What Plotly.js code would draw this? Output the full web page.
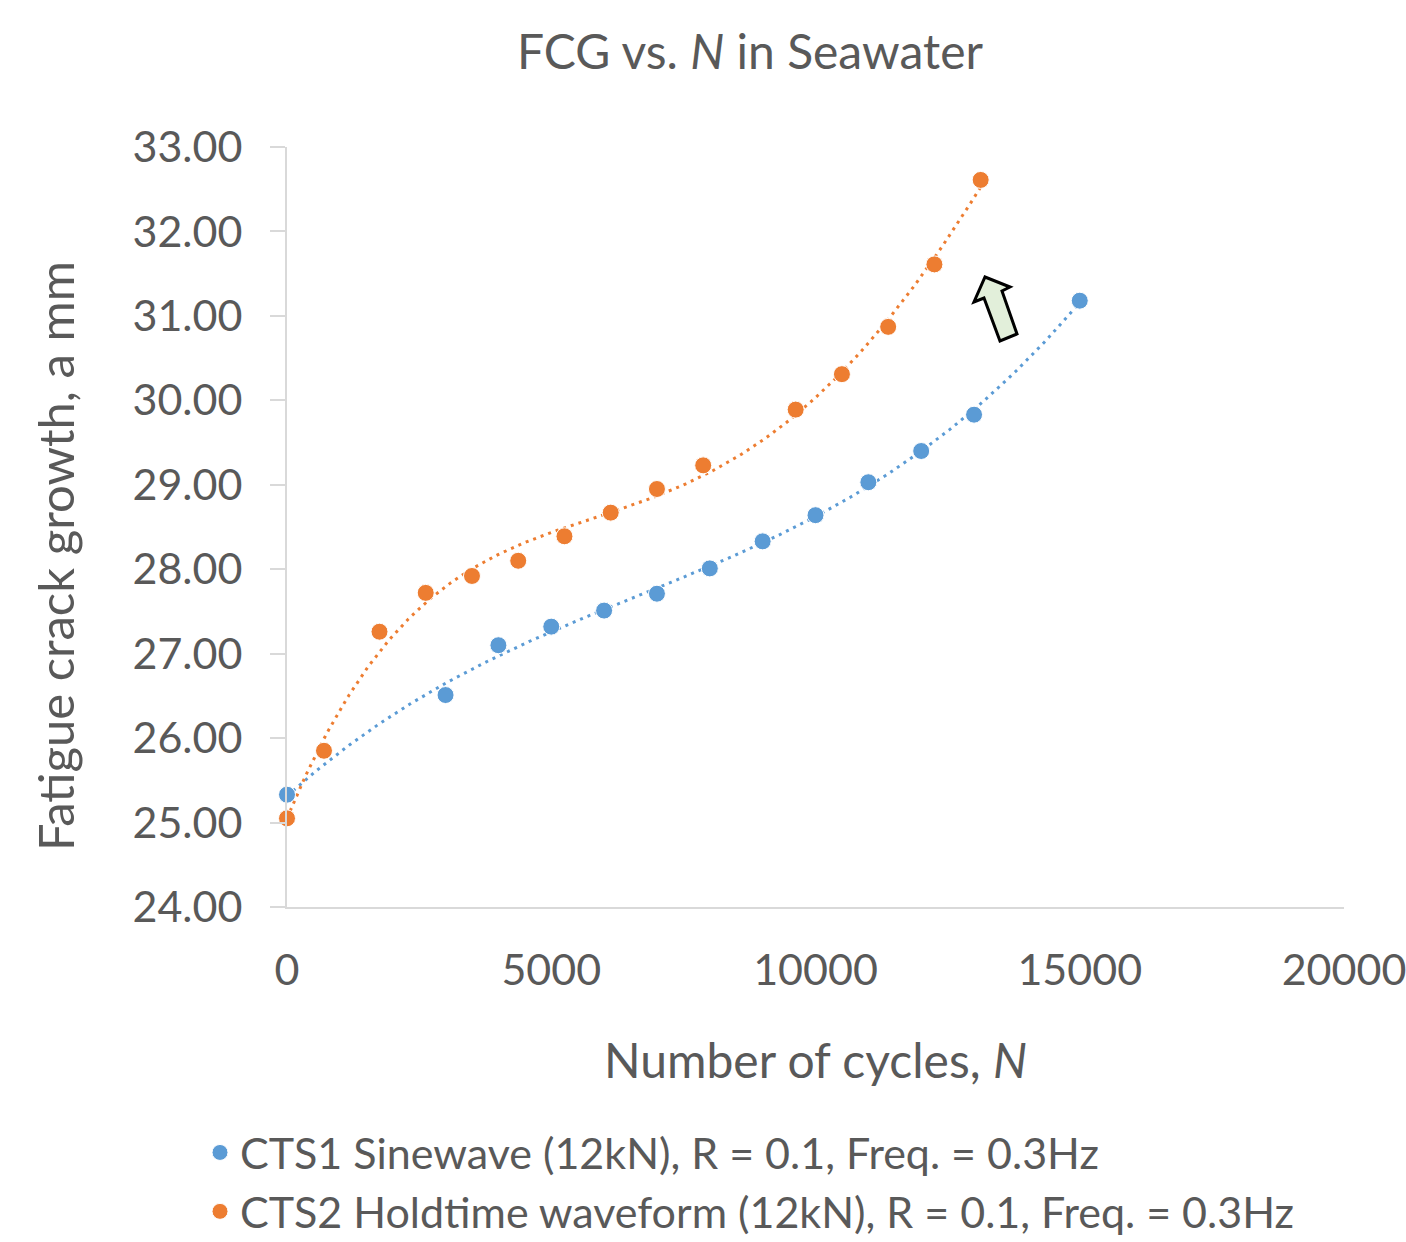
<!DOCTYPE html>
<html>
<head>
<meta charset="utf-8">
<script src="https://cdn.plot.ly/plotly-3.0.1.min.js"></script>
<style>html,body{margin:0;padding:0;background:#fff;}#chart{width:1406px;height:1242px;}</style>
</head>
<body>
<div id="chart"></div>
<script>
// ---- Data ----
const cts1Cycles = [0, 3000, 4000, 5000, 6000, 7000, 8000, 9000, 10000, 11000, 12000, 13000, 15000];
const cts1Crack  = [25.33, 26.51, 27.10, 27.32, 27.51, 27.71, 28.01, 28.33, 28.64, 29.03, 29.40, 29.83, 31.18];
const cts2Cycles = [0, 700, 1750, 2625, 3500, 4375, 5250, 6125, 7000, 7875, 9625, 10500, 11375, 12250, 13125];
const cts2Crack  = [25.05, 25.85, 27.26, 27.72, 27.92, 28.10, 28.39, 28.67, 28.95, 29.23, 29.89, 30.31, 30.87, 31.61, 32.61];
const seriesNames = [
  "CTS1 Sinewave (12kN), R = 0.1, Freq. = 0.3Hz",
  "CTS2 Holdtime waveform (12kN), R = 0.1, Freq. = 0.3Hz"
];
const yTicks = [24, 25, 26, 27, 28, 29, 30, 31, 32, 33];
const xTicks = [0, 5000, 10000, 15000, 20000];

// ---- polynomial least-squares trendline (like Excel) ----
function polyFit(xs, ys, order) {
  const s = 15000;
  const n = order + 1;
  const A = Array.from({length: n}, () => new Array(n + 1).fill(0));
  for (let k = 0; k < xs.length; k++) {
    const t = xs[k] / s;
    for (let i = 0; i < n; i++) {
      for (let j = 0; j < n; j++) A[i][j] += Math.pow(t, i + j);
      A[i][n] += ys[k] * Math.pow(t, i);
    }
  }
  for (let c = 0; c < n; c++) {
    let p = c;
    for (let r = c + 1; r < n; r++) if (Math.abs(A[r][c]) > Math.abs(A[p][c])) p = r;
    [A[c], A[p]] = [A[p], A[c]];
    for (let r = 0; r < n; r++) {
      if (r === c) continue;
      const f = A[r][c] / A[c][c];
      for (let j = c; j <= n; j++) A[r][j] -= f * A[c][j];
    }
  }
  const coef = A.map((row, i) => row[n] / row[i]);
  return x => coef.reduce((acc, c, i) => acc + c * Math.pow(x / s, i), 0);
}
function trend(xs, ys, order) {
  const f = polyFit(xs, ys, order);
  const x0 = Math.min(...xs), x1 = Math.max(...xs);
  const tx = [], ty = [];
  for (let i = 0; i <= 200; i++) { const x = x0 + (x1 - x0) * i / 200; tx.push(x); ty.push(f(x)); }
  return {tx, ty};
}

const blue = '#5B9BD5', orange = '#ED7D31';
const t1 = trend(cts1Cycles, cts1Crack, 3);
const t2 = trend(cts2Cycles, cts2Crack, 4);

const traces = [
  {x: t1.tx, y: t1.ty, mode: 'lines', line: {color: blue, width: 3, dash: '3px,5px'}, showlegend: false, hoverinfo: 'skip'},
  {x: t2.tx, y: t2.ty, mode: 'lines', line: {color: orange, width: 3, dash: '3px,5px'}, showlegend: false, hoverinfo: 'skip'},
  {x: cts1Cycles, y: cts1Crack, mode: 'markers', name: seriesNames[0], cliponaxis: false, marker: {color: blue, size: 17, line: {color: '#fff', width: 1}}},
  {x: cts2Cycles, y: cts2Crack, mode: 'markers', name: seriesNames[1], cliponaxis: false, marker: {color: orange, size: 17, line: {color: '#fff', width: 1}}}
];

// block-arrow decoration (pixel outline converted to paper coords)
const L = 287, R = 1344, T = 147, B = 907;
const arrowPx = [[985,277],[1010,287],[1002,291],[1017,334],[1000,341],[984,298],[974,302]];
const arrowPath = 'M' + arrowPx.map(p => ((p[0]-L)/(R-L)).toFixed(5) + ',' + ((B-p[1])/(B-T)).toFixed(5)).join(' L') + ' Z';

const textColor = '#595959';
const fontFam = 'Lato, "Open Sans", sans-serif';
const layout = {
  width: 1406, height: 1242,
  margin: {l: L, r: 1406 - R, t: T, b: 1242 - B, autoexpand: false},
  paper_bgcolor: '#fff', plot_bgcolor: '#fff',
  font: {family: fontFam, color: textColor},
  title: {text: 'FCG vs. <i>N</i> in Seawater', font: {size: 48, color: textColor, family: fontFam}, x: 750/1406, xanchor: 'center', y: 1 - 52/1242, yanchor: 'middle'},
  xaxis: {
    range: [0, 20000], tickvals: xTicks, ticktext: xTicks.map(String),
    showgrid: false, zeroline: false, showline: true, linecolor: '#d9d9d9', linewidth: 2,
    ticks: '', tickfont: {size: 43, color: textColor}, ticklabelstandoff: 24, tickangle: 0,
    ticklabeloverflow: 'allow', automargin: false,
    title: {text: 'Number of cycles, <i>N</i>', font: {size: 48, color: textColor}, standoff: 52}
  },
  yaxis: {
    range: [24, 33], tickvals: yTicks, ticktext: yTicks.map(v => v.toFixed(2)),
    showgrid: false, zeroline: false, showline: true, linecolor: '#d9d9d9', linewidth: 2,
    ticks: 'outside', ticklen: 15, tickwidth: 2, tickcolor: '#d9d9d9',
    tickfont: {size: 43, color: textColor}, ticklabelstandoff: 19, automargin: false,
    ticklabeloverflow: 'allow'
  },
  annotations: [
    {text: 'Fatigue crack growth, a mm', xref: 'paper', yref: 'paper', x: (55 - L)/(R - L), y: (B - 556)/(B - T),
     xanchor: 'center', yanchor: 'middle', textangle: -90, showarrow: false, font: {size: 49, color: textColor}}
  ],
  legend: {
    orientation: 'v', xref: 'container', yref: 'container', x: 200/1406, xanchor: 'left', y: 1 - 1118/1242, yanchor: 'top',
    font: {size: 43, color: textColor}, itemwidth: 30, tracegroupgap: 0, bgcolor: 'rgba(0,0,0,0)'
  },
  shapes: [
    {type: 'path', xref: 'paper', yref: 'paper', path: arrowPath, fillcolor: '#E2EFDA', line: {color: '#000', width: 3}},
    {type: 'line', xref: 'paper', yref: 'paper', x0: -15/(R-L), x1: 0, y0: 0, y1: 0, line: {color: '#d9d9d9', width: 2}}
  ],
  showlegend: true
};

Plotly.newPlot('chart', traces, layout, {displayModeBar: false, staticPlot: true});
</script>
</body>
</html>
